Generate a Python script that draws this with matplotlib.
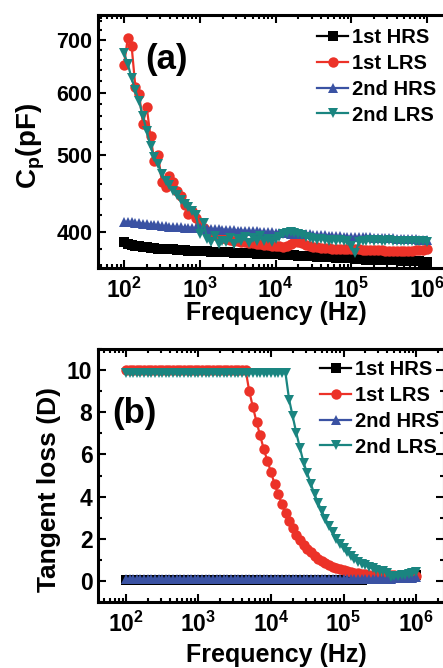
import matplotlib
matplotlib.use("Agg")
import matplotlib.pyplot as plt
from matplotlib.ticker import FixedLocator, LogLocator, NullFormatter, MultipleLocator

plt.rcParams['font.family'] = ['Liberation Sans', 'DejaVu Sans']
plt.rcParams['font.weight'] = 'bold'
plt.rcParams['mathtext.fontset'] = 'custom'
plt.rcParams['mathtext.rm'] = 'Liberation Sans:bold'
plt.rcParams['mathtext.bf'] = 'Liberation Sans:bold'
plt.rcParams['mathtext.it'] = 'Liberation Sans:bold'
plt.rcParams['mathtext.default'] = 'rm'

# ---------------- data ----------------
freq = [100, 112.2, 125.9, 141.3, 158.5, 177.8, 199.5, 223.9, 251.2, 281.8,
        316.2, 354.8, 398.1, 446.7, 501.2, 562.3, 631.0, 707.9, 794.3, 891.3,
        1000, 1122, 1259, 1413, 1585, 1778, 1995, 2239, 2512, 2818,
        3162, 3548, 3981, 4467, 5012, 5623, 6310, 7079, 7943, 8913,
        10000, 11220, 12590, 14130, 15850, 17780, 19950, 22390, 25120, 28180,
        31620, 35480, 39810, 44670, 50120, 56230, 63100, 70790, 79430, 89130,
        100000, 112200, 125900, 141300, 158500, 177800, 199500, 223900, 251200, 281800,
        316200, 354800, 398100, 446700, 501200, 562300, 631000, 707900, 794300, 891300,
        1000000]

series_labels = ['1st HRS', '1st LRS', '2nd HRS', '2nd LRS']

# (a) Cp in pF
cp_hrs1 = [388, 386, 385, 384, 384, 383, 383, 382, 382, 381,
           381, 380, 380, 380, 379, 379, 379, 378, 378, 378,
           378, 378, 378, 377, 377, 377, 377, 377, 377, 376,
           376, 376, 376, 376, 376, 375, 375, 375, 375, 375,
           375, 375, 374, 374, 374, 374, 373, 373, 373, 373,
           373, 372, 372, 372, 372, 372, 371, 371, 371, 371,
           371, 370, 370, 370, 369, 369, 369, 369, 368, 368,
           368, 368, 368, 367, 367, 367, 367, 367, 367, 366,
           366]
cp_lrs1 = [650, 703, 688, 610, 597, 548, 575, 528, 492, 500,
           463, 456, 470, 462, 450, 444, 432, 421, 425, 416,
           410, 405, 401, 398, 396, 394, 393, 392, 391, 390,
           389, 388, 388, 387, 387, 386, 386, 385, 385, 384,
           384, 384, 383, 384, 386, 388, 388, 387, 385, 384,
           383, 383, 382, 382, 382, 381, 381, 381, 380, 380,
           380, 380, 380, 379, 379, 379, 379, 379, 379, 378,
           378, 378, 378, 378, 378, 378, 378, 379, 379, 379,
           380]
cp_hrs2 = [412, 411.5, 411, 410.5, 410, 409.5, 409, 408.5, 408, 407.5,
           407, 406.5, 406, 406, 405.5, 405.5, 405, 405, 404.5, 404.5,
           404, 404, 403.5, 403.5, 403, 403, 402.5, 402.5, 402, 402,
           401.5, 401.5, 401, 401, 400.5, 400.5, 400, 400, 399.5, 399.5,
           399, 399, 398.5, 398.5, 398, 398, 397.5, 397.5, 397, 397,
           396.5, 396.5, 396, 396, 395.5, 395.5, 395, 395, 394.5, 394.5,
           394, 394, 394, 393.5, 393.5, 393.5, 393, 393, 393, 392.5,
           392.5, 392.5, 392, 392, 392, 391.5, 391.5, 391.5, 391, 391,
           391]
cp_lrs2 = [673, 652, 626, 604, 585, 560, 537, 513, 497, 487,
           473, 464, 458, 451, 445, 439, 434, 430, 425, 420,
           398, 410, 392, 388, 395, 386, 390, 388, 393, 386,
           392, 389, 394, 387, 393, 390, 395, 389, 392, 388,
           392, 394, 397, 399, 400, 399, 398, 396, 394, 393,
           392, 391, 392, 391, 390, 391, 390, 391, 390, 389,
           384, 376, 388, 390, 390, 391, 390, 391, 390, 390,
           391, 390, 390, 389, 390, 390, 389, 390, 389, 389,
           388]

# (b) tangent loss D
d_hrs1 = [0.02, 0.02, 0.02, 0.02, 0.02, 0.02, 0.02, 0.02, 0.02, 0.02,
          0.02, 0.02, 0.02, 0.02, 0.02, 0.02, 0.02, 0.02, 0.02, 0.02,
          0.02, 0.02, 0.02, 0.02, 0.02, 0.02, 0.02, 0.02, 0.02, 0.02,
          0.02, 0.02, 0.02, 0.02, 0.02, 0.02, 0.02, 0.02, 0.02, 0.02,
          0.02, 0.02, 0.02, 0.02, 0.02, 0.02, 0.02, 0.02, 0.02, 0.02,
          0.02, 0.02, 0.02, 0.02, 0.02, 0.03, 0.03, 0.03, 0.03, 0.04,
          0.04, 0.04, 0.05, 0.05, 0.06, 0.06, 0.07, 0.08, 0.08, 0.09,
          0.10, 0.11, 0.12, 0.13, 0.14, 0.16, 0.17, 0.19, 0.21, 0.23,
          0.26]
d_lrs1 = [10.0, 10.0, 10.0, 10.0, 10.0, 10.0, 10.0, 10.0, 10.0, 10.0,
          10.0, 10.0, 10.0, 10.0, 10.0, 10.0, 10.0, 10.0, 10.0, 10.0,
          10.0, 10.0, 10.0, 10.0, 10.0, 10.0, 10.0, 10.0, 10.0, 10.0,
          10.0, 10.0, 10.0, 10.0, 9.0, 8.25, 7.55, 6.9, 6.25, 5.7,
          5.15, 4.6, 4.1, 3.65, 3.2, 2.85, 2.5, 2.2, 1.95, 1.72,
          1.52, 1.35, 1.2, 1.06, 0.95, 0.85, 0.76, 0.68, 0.61, 0.55,
          0.5, 0.46, 0.42, 0.39, 0.36, 0.34, 0.32, 0.3, 0.29, 0.28,
          0.27, 0.27, 0.26, 0.26, 0.26, 0.25, 0.25, 0.25, 0.25, 0.25,
          0.25]
d_hrs2 = [0.08, 0.08, 0.08, 0.08, 0.08, 0.08, 0.08, 0.08, 0.08, 0.08,
          0.08, 0.08, 0.08, 0.08, 0.08, 0.08, 0.08, 0.08, 0.08, 0.08,
          0.08, 0.08, 0.08, 0.08, 0.08, 0.08, 0.08, 0.08, 0.08, 0.08,
          0.08, 0.08, 0.08, 0.08, 0.08, 0.08, 0.08, 0.08, 0.08, 0.08,
          0.08, 0.08, 0.08, 0.08, 0.08, 0.08, 0.08, 0.08, 0.08, 0.08,
          0.08, 0.08, 0.08, 0.08, 0.08, 0.08, 0.08, 0.08, 0.08, 0.08,
          0.08, 0.08, 0.08, 0.08, 0.08, 0.09, 0.09, 0.09, 0.09, 0.10,
          0.10, 0.10, 0.11, 0.11, 0.12, 0.12, 0.13, 0.14, 0.15, 0.16,
          0.18]
d_lrs2 = [9.85, 9.85, 9.85, 9.85, 9.85, 9.85, 9.85, 9.85, 9.85, 9.85,
          9.85, 9.85, 9.85, 9.85, 9.85, 9.85, 9.85, 9.85, 9.85, 9.85,
          9.85, 9.85, 9.85, 9.85, 9.85, 9.85, 9.85, 9.85, 9.85, 9.85,
          9.85, 9.85, 9.85, 9.85, 9.85, 9.85, 9.85, 9.85, 9.85, 9.85,
          9.85, 9.85, 9.85, 9.85, 9.85, 8.6, 7.8, 7.0, 6.3, 5.6,
          5.1, 4.6, 4.1, 3.7, 3.3, 2.95, 2.6, 2.3, 2.0, 1.75,
          1.55, 1.35, 1.2, 1.05, 0.92, 0.82, 0.74, 0.66, 0.6, 0.54,
          0.48, 0.45, 0.38, 0.2, 0.22, 0.25, 0.27, 0.3, 0.33, 0.36,
          0.4]

yticks_a = [400, 500, 600, 700]
yticks_b = [0, 2, 4, 6, 8, 10]
xticks = [1e2, 1e3, 1e4, 1e5, 1e6]
xticklabels = ['$10^{2}$', '$10^{3}$', '$10^{4}$', '$10^{5}$', '$10^{6}$']

colors = ['#000000', '#EC3228', '#3A52A3', '#1A8580']
markers = ['s', 'o', '^', 'v']

W, H = 443, 668
fig = plt.figure(figsize=(W / 100, H / 100), dpi=100)


def px_axes(l, t, r, b):
    return fig.add_axes([l / W, 1 - b / H, (r - l) / W, (b - t) / H])


ax1 = px_axes(98, 15, 453, 268)
ax2 = px_axes(98, 349, 444, 602)

for ax, ys in ((ax1, (cp_hrs1, cp_lrs1, cp_hrs2, cp_lrs2)),
               (ax2, (d_hrs1, d_lrs1, d_hrs2, d_lrs2))):
    for y, c, m, lab in zip(ys, colors, markers, series_labels):
        ax.plot(freq, y, color=c, marker=m, markersize=7.5, lw=1.6,
                markeredgewidth=0, label=lab)
    ax.set_xscale('log')
    ax.xaxis.set_major_locator(FixedLocator(xticks))
    ax.set_xticklabels(xticklabels)
    ax.xaxis.set_minor_locator(LogLocator(base=10, subs=range(2, 10), numticks=20))
    ax.xaxis.set_minor_formatter(NullFormatter())
    ax.tick_params(which='both', direction='in', top=True, right=True, width=1.5)
    ax.tick_params(which='major', length=5.5)
    ax.tick_params(which='minor', length=2.8)
    ax.tick_params(axis='x', which='major', labelsize=16.5, pad=7)
    for s in ax.spines.values():
        s.set_linewidth(2.2)
    ax.set_xlabel('Frequency (Hz)', fontsize=18, fontweight='bold')
    ax.xaxis.label.set_va('center')
    leg = ax.legend(frameon=False, fontsize=14.5, handlelength=1.55,
                    handletextpad=0.2, labelspacing=0.34, borderpad=0,
                    borderaxespad=0, loc='upper left')
    for t in leg.get_texts():
        t.set_fontweight('bold')

# panel (a)
ax1.set_yscale('log')
ax1.set_ylim(360, 752)
ax1.set_xlim(10 ** 1.657, 10 ** 6.343)
ax1.yaxis.set_major_locator(FixedLocator(yticks_a))
ax1.set_yticklabels([str(v) for v in yticks_a])
ax1.yaxis.set_minor_locator(MultipleLocator(20))
ax1.yaxis.set_minor_formatter(NullFormatter())
ax1.tick_params(axis='y', which='major', labelsize=15.5, pad=4)
ax1.set_ylabel('C$_\\mathrm{p}$(pF)', fontsize=20, fontweight='bold', va='center')
ax1.yaxis.set_label_coords((31 - 98) / 355, 1 - (146 - 15) / 253)
ax1.xaxis.set_label_coords((276 - 98) / 355, (268 - 313) / 253)
ax1.get_legend().set_bbox_to_anchor((317 / W, 1 - 28 / H), transform=fig.transFigure)
fig.text(145 / W, 1 - 59 / H, '(a)', fontsize=25, fontweight='bold', va='center', ha='left')

# panel (b)
ax2.set_ylim(-1, 11)
ax2.set_xlim(10 ** 1.614, 10 ** 6.386)
ax2.yaxis.set_major_locator(FixedLocator(yticks_b))
ax2.set_yticklabels([str(v) for v in yticks_b])
ax2.yaxis.set_minor_locator(MultipleLocator(1))
ax2.tick_params(axis='y', which='major', labelsize=16.5, pad=4)
ax2.set_ylabel('Tangent loss (D)', fontsize=19, fontweight='bold', va='center')
ax2.yaxis.set_label_coords((49 - 98) / 346, 1 - (490 - 349) / 253)
ax2.xaxis.set_label_coords((276 - 98) / 346, (602 - 655) / 253)
ax2.get_legend().set_bbox_to_anchor((320 / W, 1 - 360 / H), transform=fig.transFigure)
fig.text(112 / W, 1 - 414 / H, '(b)', fontsize=25, fontweight='bold', va='center', ha='left')

fig.savefig('out.png', dpi=100)
